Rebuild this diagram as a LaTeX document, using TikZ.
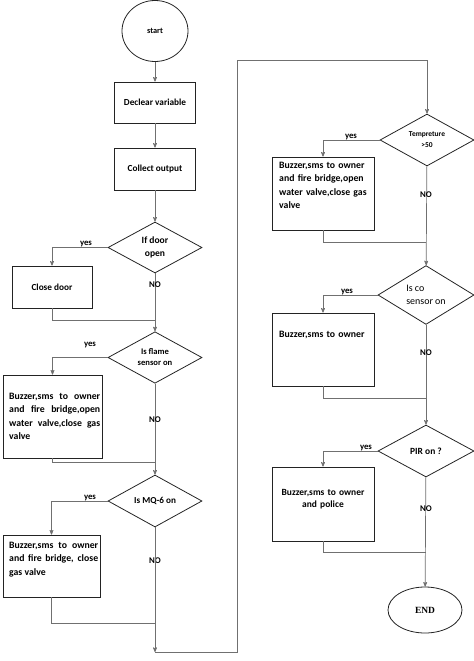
\documentclass[tikz,border=0pt]{standalone}
\usepackage{fontspec}
\setmainfont{Carlito}
\newfontfamily\endfont{Liberation Serif}
\usetikzlibrary{arrows}
\usetikzlibrary{shapes.geometric}
\usetikzlibrary{positioning}
\definecolor{flowline}{RGB}{112,112,112}
\definecolor{flowedge}{RGB}{35,35,35}
\tikzset{box/.style = {draw=flowedge, line width=0.8pt, rectangle, inner sep=0pt, align=center},
         decision/.style = {draw=flowedge, line width=0.8pt, diamond, inner sep=0pt, align=center},
         terminal/.style = {draw=flowedge, line width=0.8pt, ellipse, inner sep=0pt},
         flow/.style = {draw=flowline, line width=0.7pt},
         flowarrow/.style = {flow, ->, >=stealth'},
         yeslbl/.style = {anchor=south, inner sep=0.5pt, font=\bfseries\fontsize{8.8}{10}\selectfont},
         nolbl/.style = {inner sep=0pt, font=\bfseries\fontsize{8.8}{10}\selectfont},
         boxtext/.style = {anchor=north west, inner sep=0pt, text width=91bp, align=justify,
                           font=\bfseries\fontsize{9.8}{13.5}\selectfont}}

\begin{document}
\begin{tikzpicture}[x=1bp, y=-1bp]
      \useasboundingbox (0,0) rectangle (474,661);

      % left column
      \node [terminal, minimum width=66bp, minimum height=61bp, font=\bfseries\fontsize{8.3}{10}\selectfont] (start) at (155,31) {start};
      \node [box, minimum width=81bp, minimum height=41bp, font=\bfseries\fontsize{9.3}{11}\selectfont] (declear) at (155,102.5) {Declear variable};
      \node [box, minimum width=81bp, minimum height=42bp, font=\bfseries\fontsize{9.3}{11}\selectfont] (collect) at (155,169) {Collect output};
      \node [decision, minimum width=94bp, minimum height=51bp, font=\bfseries\fontsize{9.6}{12.5}\selectfont] (door) at (155,247.5) {If door\\open};
      \node [box, minimum width=80bp, minimum height=42bp, font=\bfseries\fontsize{9.3}{11}\selectfont] (closedoor) at (52,287) {Close door};
      \node [decision, minimum width=94bp, minimum height=51bp, font=\bfseries\fontsize{8.6}{11}\selectfont] (flame) at (155,357.5) {Is flame\\sensor on};
      \node [box, minimum width=99bp, minimum height=83bp] (flamebox) at (52.5,416.5) {};
      \node [boxtext] (flametext) at (9,393) {Buzzer,sms to owner \linebreak and fire bridge,open \linebreak water valve,close gas \linebreak valve};
      \node [decision, minimum width=94bp, minimum height=52bp, font=\bfseries\fontsize{9.2}{11}\selectfont] (mq) at (155,501) {Is MQ-6 on};
      \node [box, minimum width=97bp, minimum height=62bp] (mqbox) at (51.5,566) {};
      \node [boxtext, text width=89bp] (mqtext) at (9,542) {Buzzer,sms to owner \linebreak and fire bridge, close \linebreak gas valve};

      % right column
      \node [decision, minimum width=94bp, minimum height=50bp, font=\bfseries\fontsize{7.5}{11}\selectfont] (temp) at (427,140) {Tempreture\\>50};
      \node [box, minimum width=102bp, minimum height=73bp] (tempbox) at (323,193.5) {};
      \node [boxtext, align=left] (temptext) at (279,162) {Buzzer,sms to owner\\and fire bridge,open\\water valve,close gas\\valve};
      \node [decision, minimum width=96bp, minimum height=50bp, align=left, font=\fontsize{10}{13}\selectfont] (co) at (426,295) {Is co\\sensor on};
      \node [box, minimum width=102bp, minimum height=73bp] (cobox) at (323,349.5) {};
      \node [boxtext, align=left] (cotext) at (279,331) {Buzzer,sms to owner};
      \node [decision, minimum width=96bp, minimum height=52bp, font=\bfseries\fontsize{9.5}{11}\selectfont] (pir) at (426,451) {PIR on ?};
      \node [box, minimum width=102bp, minimum height=74bp] (pirbox) at (323,504) {};
      \node [boxtext, anchor=north, align=center, font=\bfseries\fontsize{9.5}{12}\selectfont] (pirtext) at (323,489) {Buzzer,sms to owner\\and police};
      \node [terminal, minimum width=74bp, minimum height=46bp, font=\endfont\bfseries\fontsize{9.5}{11}\selectfont] (end) at (425,610) {END};

      % main flow
      \draw [flowarrow] (start) -- (declear);
      \draw [flowarrow] (declear) -- (collect);
      \draw [flowarrow] (collect) -- (door);
      \draw [flowarrow] (door) -- (flame);
      \draw [flowarrow] (flame) -- (mq);
      \draw [flowarrow] (temp) -- (co);
      \draw [flowarrow] (co) -- (pir);
      \draw [flowarrow] (pir) -- (end);

      % yes branches
      \draw [flowarrow] (door.west) -| (closedoor.north);
      \draw [flowarrow] (flame.west) -| (flamebox.north);
      \draw [flowarrow] (mq.west) -| (mqbox.north);
      \draw [flowarrow] (temp.west) -| (tempbox.north);
      \draw [flowarrow] (co.west) -| (cobox.north);
      \draw [flowarrow] (pir.west) -| (pirbox.north);
      \node [yeslbl] (yesdoor) at (86,248) {yes};
      \node [yeslbl] (yesflame) at (90,348.5) {yes};
      \node [yeslbl] (yesmq) at (90,501.5) {yes};
      \node [yeslbl] (yestemp) at (351,140.5) {yes};
      \node [yeslbl] (yesco) at (347,295.5) {yes};
      \node [yeslbl] (yespir) at (366,451.5) {yes};

      % no labels
      \node [nolbl] (nodoor) at (155,285) {NO};
      \node [nolbl] (noflame) at (155,420) {NO};
      \node [nolbl] (nomq) at (155,561) {NO};
      \node [nolbl] (notemp) at (426,195) {NO};
      \node [nolbl] (noco) at (426,353) {NO};
      \node [nolbl] (nopir) at (426,509) {NO};

      % boxes back to the main line
      \coordinate (joindoor) at (155,320);
      \coordinate (joinflame) at (155,462);
      \coordinate (joinmq) at (155,623);
      \coordinate (jointemp) at (426,242);
      \coordinate (joinco) at (426,398);
      \coordinate (joinpir) at (426,552);
      \draw [flow] (closedoor.south) |- (joindoor);
      \draw [flow] (flamebox.south) |- (joinflame);
      \draw [flow] (mqbox.south) |- (joinmq);
      \draw [flow] (tempbox.south) |- (jointemp);
      \draw [flow] (cobox.south) |- (joinco);
      \draw [flow] (pirbox.south) |- (joinpir);

      % over to the right column
      \coordinate (loopa) at (155,652);
      \coordinate (loopb) at (237,652);
      \coordinate (loopc) at (237,60);
      \draw [flowarrow] (mq) -- (loopa);
      \draw [flowarrow] (loopa) -- (loopb) -- (loopc) -| (temp.north);
    \end{tikzpicture}
\end{document}
